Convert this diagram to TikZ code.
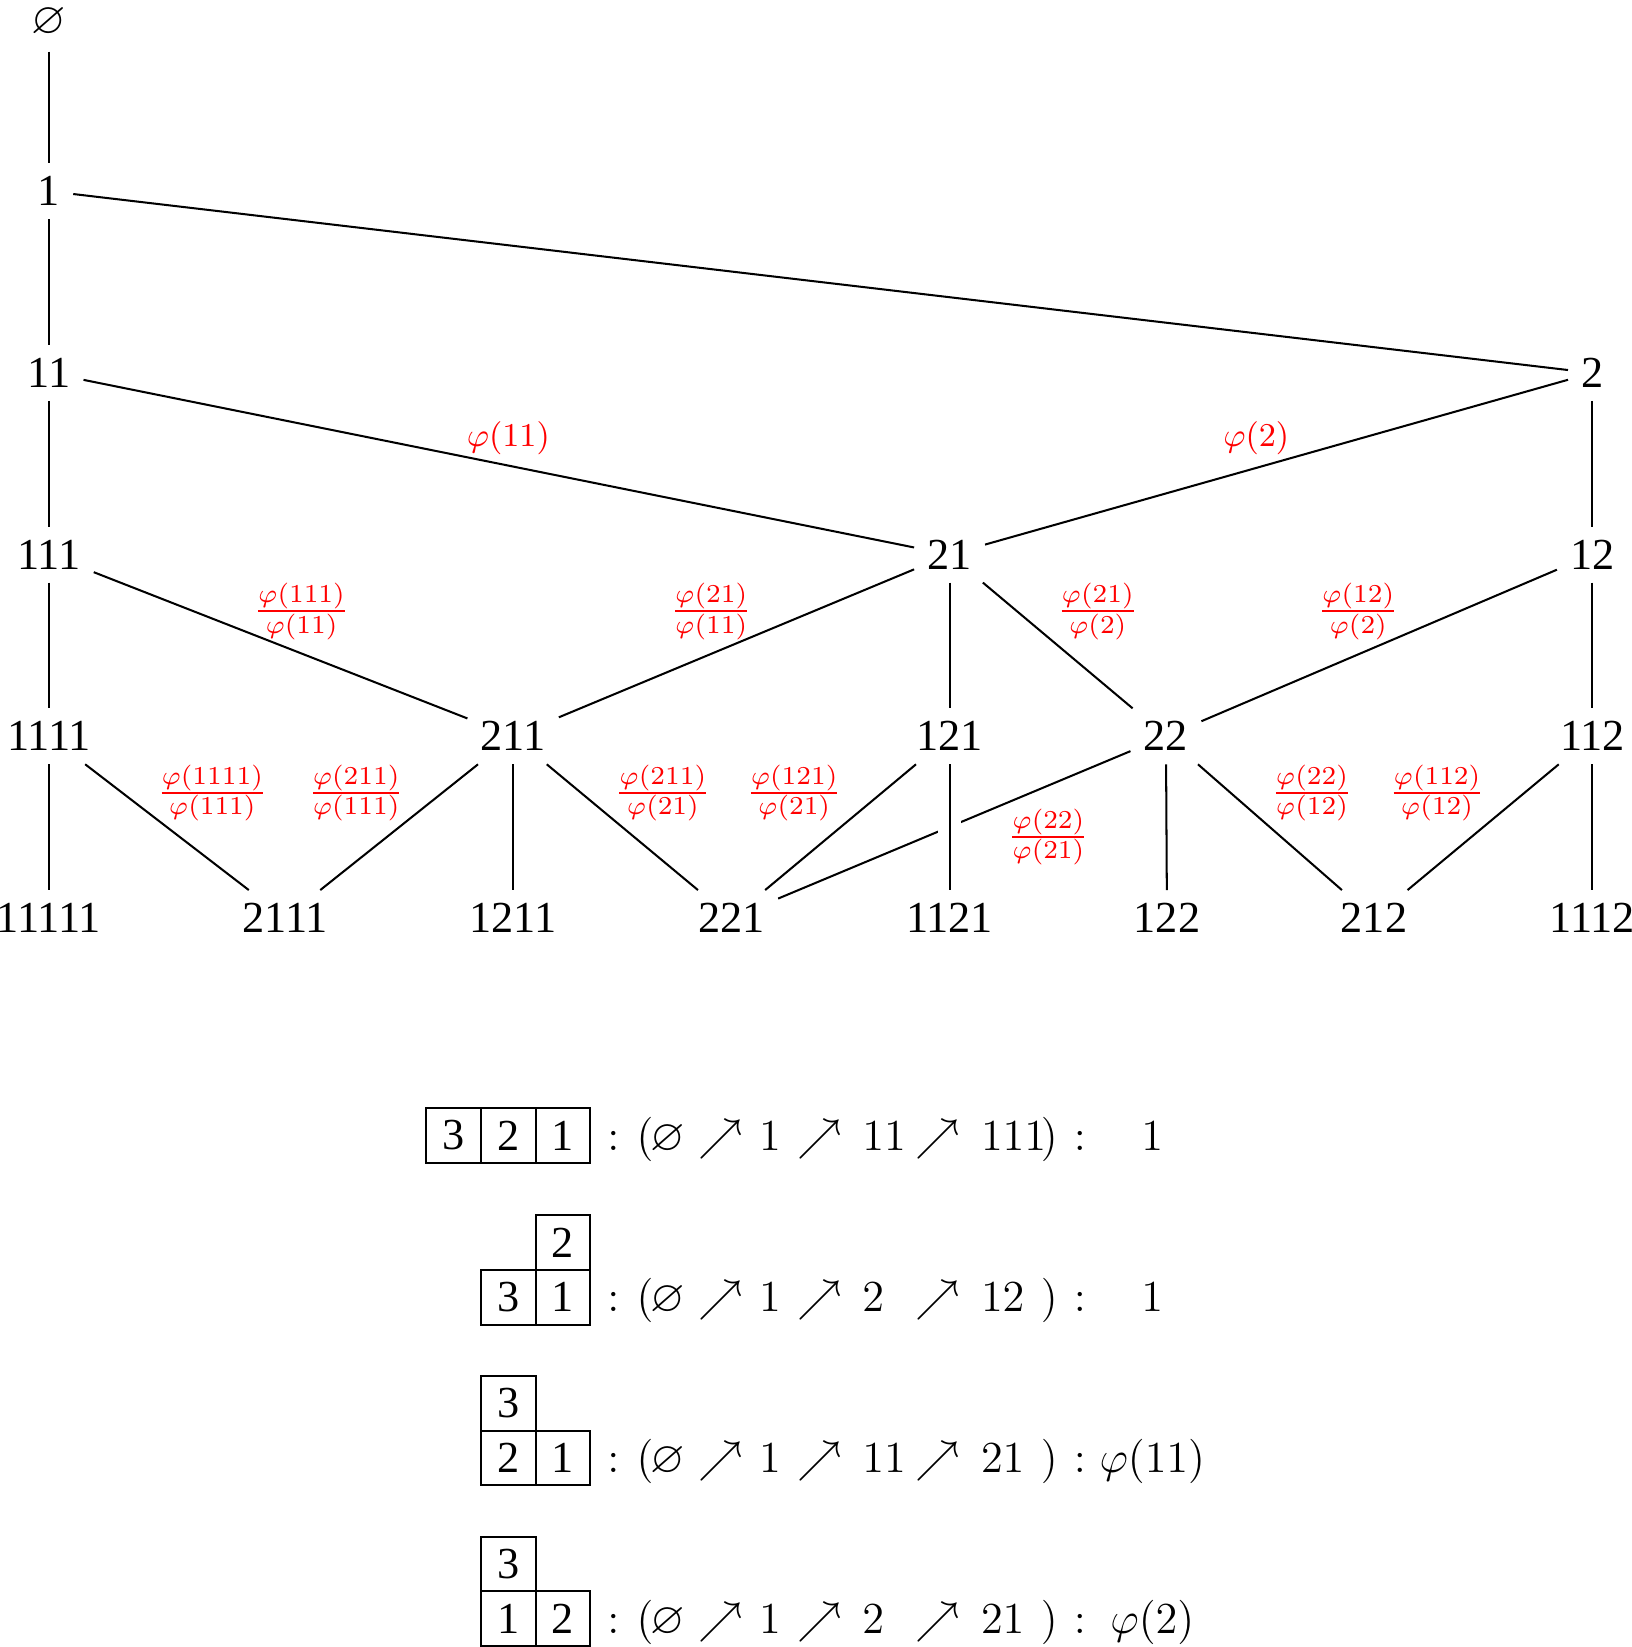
\documentclass[tikz,border=0pt]{standalone}
\usepackage{amssymb}
\usepackage{fontspec}
\setmainfont{Liberation Serif}
\usetikzlibrary{positioning}
\tikzset{every picture/.style={line width=0.55pt}}
\tikzset{font=\large}
\tikzstyle{lbl}=[text=red,font=\small]
\tikzstyle{flbl}=[text=red,font=\normalsize]
\tikzstyle{cell}=[draw,minimum size=0.52cm,inner sep=0pt]
\tikzstyle{over}=[preaction={draw=white,line width=6pt}]

\begin{document}
\begin{tikzpicture}
\useasboundingbox (0,0) rectangle (15.53,-15.68);
% lattice
\node[inner sep=1pt,outer sep=3pt] (e) at (0.465,-0.21) {$\varnothing$};
\node (n1) at (0.465,-1.82) {1};
\node (n11) at (0.465,-3.55) {11};
\node (n2) at (15.16,-3.55) {2};
\node (n111) at (0.465,-5.28) {111};
\node (n21) at (9.04,-5.28) {21};
\node (n12) at (15.16,-5.28) {12};
\node (n1111) at (0.465,-7.01) {1111};
\node (n211) at (4.885,-7.01) {211};
\node (n121) at (9.04,-7.01) {121};
\node (n22) at (11.10,-7.01) {22};
\node (n112) at (15.16,-7.01) {112};
\node (n11111) at (0.465,-8.74) {11111};
\node (n2111) at (2.715,-8.74) {2111};
\node (n1211) at (4.885,-8.74) {1211};
\node (n221) at (6.965,-8.74) {221};
\node (n1121) at (9.04,-8.74) {1121};
\node (n122) at (11.11,-8.74) {122};
\node (n212) at (13.08,-8.74) {212};
\node (n1112) at (15.16,-8.74) {1112};
\path
(e) edge (n1)
(n1) edge (n11)
(n1) edge (n2)
(n11) edge (n111)
(n11) edge (n21)
(n2) edge (n21)
(n2) edge (n12)
(n111) edge (n1111)
(n111) edge (n211)
(n21) edge (n211)
(n21) edge (n121)
(n21) edge (n22)
(n12) edge (n22)
(n12) edge (n112)
(n1111) edge (n11111)
(n1111) edge (n2111)
(n211) edge (n2111)
(n211) edge (n1211)
(n211) edge (n221)
(n121) edge (n221)
(n22) edge (n221)
(n22) edge (n122)
(n22) edge (n212)
(n112) edge (n212)
(n112) edge (n1112);
\draw[over] (n121) -- (n1121);
% weights
\node[lbl] (w11) at (4.84,-4.17) {$\varphi(11)$};
\node[lbl] (w2) at (11.96,-4.17) {$\varphi(2)$};
\node[flbl] (f111) at (2.87,-5.82) {$\frac{\varphi(111)}{\varphi(11)}$};
\node[flbl] (f21a) at (6.77,-5.82) {$\frac{\varphi(21)}{\varphi(11)}$};
\node[flbl] (f21b) at (10.45,-5.82) {$\frac{\varphi(21)}{\varphi(2)}$};
\node[flbl] (f12) at (12.93,-5.82) {$\frac{\varphi(12)}{\varphi(2)}$};
\node[flbl] (f1111) at (2.02,-7.55) {$\frac{\varphi(1111)}{\varphi(111)}$};
\node[flbl] (f211a) at (3.39,-7.55) {$\frac{\varphi(211)}{\varphi(111)}$};
\node[flbl] (f211b) at (6.31,-7.55) {$\frac{\varphi(211)}{\varphi(21)}$};
\node[flbl] (f121) at (7.56,-7.55) {$\frac{\varphi(121)}{\varphi(21)}$};
\node[flbl] (f22a) at (9.98,-7.97) {$\frac{\varphi(22)}{\varphi(21)}$};
\node[flbl] (f22b) at (12.49,-7.55) {$\frac{\varphi(22)}{\varphi(12)}$};
\node[flbl] (f112) at (13.68,-7.55) {$\frac{\varphi(112)}{\varphi(12)}$};
% tableaux
\node[cell] (a3) at (4.32,-10.81) {3};
\node[cell] (a2) at (4.84,-10.81) {2};
\node[cell] (a1) at (5.36,-10.81) {1};
\node[cell] (b2) at (5.36,-11.83) {2};
\node[cell] (b3) at (4.84,-12.35) {3};
\node[cell] (b1) at (5.36,-12.35) {1};
\node[cell] (c3) at (4.84,-13.36) {3};
\node[cell] (c2) at (4.84,-13.88) {2};
\node[cell] (c1) at (5.36,-13.88) {1};
\node[cell] (d3) at (4.84,-14.89) {3};
\node[cell] (d1) at (4.84,-15.41) {1};
\node[cell] (d2) at (5.36,-15.41) {2};
% chains
\foreach \y/\a/\b/\w [count=\r] in {-10.95/11/111/1,-12.49/2/12/1,-14.02/11/21/\varphi(11),-15.55/2/21/\varphi(2)}{
\node[anchor=base] (s\r) at (5.84,\y) {$:$};
\node[anchor=base] (l\r) at (6.14,\y) {$\bigl($};
\node[anchor=base] (z\r) at (6.36,\y) {$\varnothing$};
\node[anchor=base] (u\r) at (6.86,\y) {$\nearrow$};
\node[anchor=base] (o\r) at (7.33,\y) {$1$};
\node[anchor=base] (v\r) at (7.80,\y) {$\nearrow$};
\node[anchor=base west,inner sep=0pt] (x\r) at (8.20,\y) {$\a$};
\node[anchor=base] (t\r) at (8.93,\y) {$\nearrow$};
\node[anchor=base west,inner sep=0pt] (y\r) at (9.33,\y) {$\b$};
\node[anchor=base] (r\r) at (9.99,\y) {$\bigr)$};
\node[anchor=base] (q\r) at (10.28,\y) {$:$};
\node[anchor=base] (m\r) at (10.97,\y) {$\w$};
}
\end{tikzpicture}
\end{document}
